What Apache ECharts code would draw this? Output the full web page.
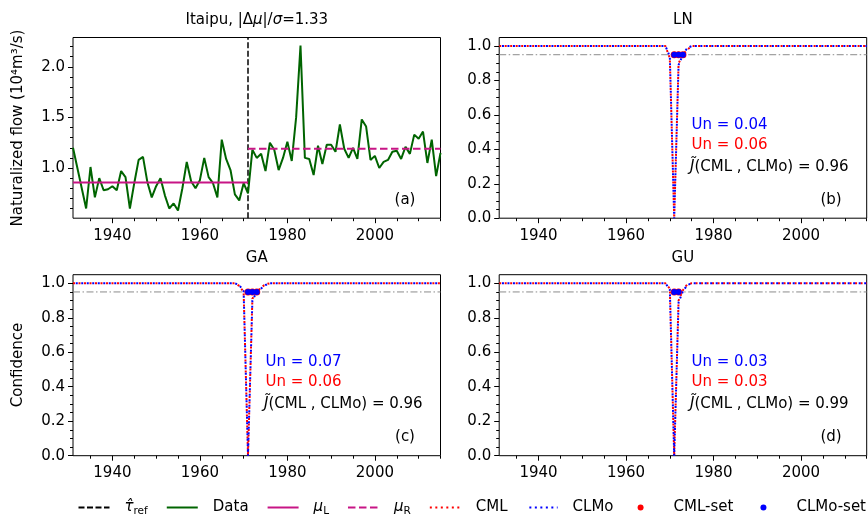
<!DOCTYPE html>
<html><head><meta charset="utf-8">
<script src="https://cdn.jsdelivr.net/npm/echarts@6/dist/echarts.min.js"></script>
<style>html,body{margin:0;padding:0;background:#fff}#c{width:868px;height:521px}</style>
</head><body><div id="c"></div>
<script>
// ---------------- data ----------------
const years = [];
for (let y = 1931; y <= 2015; y++) years.push(y);

const flow = [
  1.20,1.00,0.80,0.60,1.01,0.71,0.90,0.78,0.79,0.82,
  0.78,0.97,0.91,0.60,0.85,1.08,1.11,0.86,0.71,0.82,
  0.90,0.73,0.60,0.65,0.58,0.80,1.06,0.87,0.80,0.88,
  1.10,0.91,0.85,0.71,1.28,1.09,0.98,0.74,0.68,0.85,
  0.75,1.18,1.10,1.14,0.97,1.25,1.18,0.98,1.10,1.26,
  1.07,1.50,2.21,1.10,1.09,0.93,1.22,1.04,1.23,1.23,
  1.16,1.43,1.19,1.10,1.20,1.09,1.48,1.41,1.08,1.12,
  1.00,1.06,1.08,1.16,1.17,1.09,1.21,1.14,1.33,1.29,
  1.36,1.05,1.28,0.92,1.15
];
const tauRef = 1971;
const muLLevel = 0.857, muLSpan = [1931, 1971];
const muRLevel = 1.19,  muRSpan = [1971, 2015];
const confLevel = 0.95;

// confidence curves (one value per year 1931-2015)
const lnCML = [
  1,1,1,1,1,1,1,1,1,1, 1,1,1,1,1,1,1,1,1,1, 1,1,1,1,1,1,1,1,1,1, 1,1,1,1,1,1,1,1,
  1,0.93,0,0.90,0.95,0.98,
  1,1,1,1,1,1,1,1,1,1, 1,1,1,1,1,1,1,1,1,1, 1,1,1,1,1,1,1,1,1,1, 1,1,1,1,1,1,1,1,1,1, 1];
const lnCLMo = [
  1,1,1,1,1,1,1,1,1,1, 1,1,1,1,1,1,1,1,1,1, 1,1,1,1,1,1,1,1,1,1, 1,1,1,1,1,1,1,1,
  1,0.94,0,0.89,0.95,0.99,
  1,1,1,1,1,1,1,1,1,1, 1,1,1,1,1,1,1,1,1,1, 1,1,1,1,1,1,1,1,1,1, 1,1,1,1,1,1,1,1,1,1, 1];
const gaCML = [
  1,1,1,1,1,1,1,1,1,1, 1,1,1,1,1,1,1,1,1,1, 1,1,1,1,1,1,1,1,1,1, 1,1,1,1,1,1,1,1,
  0.985,0.95,0,0.91,0.95,0.975,0.995,
  1,1,1,1,1,1,1,1,1,1, 1,1,1,1,1,1,1,1,1,1, 1,1,1,1,1,1,1,1,1,1, 1,1,1,1,1,1,1,1,1,1];
const gaCLMo = [
  1,1,1,1,1,1,1,1,1,1, 1,1,1,1,1,1,1,1,1,1, 1,1,1,1,1,1,1,1,1,1, 1,1,1,1,1,1,1,1,
  0.99,0.955,0,0.90,0.95,0.97,0.99,
  1,1,1,1,1,1,1,1,1,1, 1,1,1,1,1,1,1,1,1,1, 1,1,1,1,1,1,1,1,1,1, 1,1,1,1,1,1,1,1,1,1];
const guCML = [
  1,1,1,1,1,1,1,1,1,1, 1,1,1,1,1,1,1,1,1,1, 1,1,1,1,1,1,1,1,1,1, 1,1,1,1,1,1,1,1,
  1,0.97,0,0.90,0.96,0.995,
  1,1,1,1,1,1,1,1,1,1, 1,1,1,1,1,1,1,1,1,1, 1,1,1,1,1,1,1,1,1,1, 1,1,1,1,1,1,1,1,1,1, 1];
const guCLMo = [
  1,1,1,1,1,1,1,1,1,1, 1,1,1,1,1,1,1,1,1,1, 1,1,1,1,1,1,1,1,1,1, 1,1,1,1,1,1,1,1,
  1,0.965,0,0.89,0.955,0.99,
  1,1,1,1,1,1,1,1,1,1, 1,1,1,1,1,1,1,1,1,1, 1,1,1,1,1,1,1,1,1,1, 1,1,1,1,1,1,1,1,1,1, 1];

const lnCMLSet = [1971,1972,1973], lnCLMoSet = [1971,1972,1973];
const gaCMLSet = [1971,1972,1973], gaCLMoSet = [1971,1972,1973];
const guCMLSet = [1971,1972],      guCLMoSet = [1971,1972];

const panelNames = ['LN','GA','GU'];
const unBlue = ['0.04','0.07','0.03'];
const unRed  = ['0.06','0.06','0.03'];
const jVals  = ['0.96','0.96','0.99'];

// ticks
const xMajor = [1940,1960,1980,2000];
const xMinor = [1935,1945,1950,1955,1965,1970,1975,1985,1990,1995,2005,2010,2015];
const yAMajor = [1.0,1.5,2.0];
const yAMinor = [0.6,0.7,0.8,0.9,1.1,1.2,1.3,1.4,1.6,1.7,1.8,1.9,2.1,2.2];
const yCMajor = [0,0.2,0.4,0.6,0.8,1.0];
const yCMinor = [0.05,0.1,0.15,0.25,0.3,0.35,0.45,0.5,0.55,0.65,0.7,0.75,0.85,0.9,0.95];

// ---------------- layout ----------------
const FF = '"DejaVu Sans"';
const FS = 15;
const grids = [
  {left:73,  top:37.5,  width:367.5, height:180.7},
  {left:499.2, top:37.5,  width:367.5, height:180.7},
  {left:73,  top:274.7, width:367.5, height:181},
  {left:499.2, top:274.7, width:367.5, height:181}
].map(g => Object.assign(g, {show:true, borderColor:'#000', borderWidth:1, backgroundColor:'transparent', containLabel:false}));

const X_MIN = 1931, X_MAX = 2015;
const yLims = [[0.504, 2.29],[0,1.05],[0,1.05],[0,1.05]];

const xAxis = [], yAxis = [];
for (let i = 0; i < 4; i++) {
  xAxis.push({type:'value', gridIndex:i, min:X_MIN, max:X_MAX, position:'bottom',
    axisLine:{show:false}, splitLine:{show:false},
    axisTick:{show:true, inside:false, length:5, customValues:xMajor, lineStyle:{color:'#000', width:1}},
    axisLabel:{show:true, customValues:xMajor, margin:10, color:'#000', fontFamily:FF, fontSize:FS,
      formatter: v => String(Math.round(v))}});
}
for (let i = 0; i < 4; i++) {
  xAxis.push({type:'value', gridIndex:i, min:X_MIN, max:X_MAX, position:'bottom',
    axisLine:{show:false}, splitLine:{show:false},
    axisTick:{show:true, inside:false, length:3, customValues:xMinor, lineStyle:{color:'#000', width:1}},
    axisLabel:{show:false}});
}
for (let i = 0; i < 4; i++) {
  const maj = i === 0 ? yAMajor : yCMajor;
  yAxis.push({type:'value', gridIndex:i, min:yLims[i][0], max:yLims[i][1], position:'left',
    axisLine:{show:false}, splitLine:{show:false},
    axisTick:{show:true, inside:false, length:5, customValues:maj, lineStyle:{color:'#000', width:1}},
    axisLabel:{show:true, customValues:maj, margin:8, color:'#000', fontFamily:FF, fontSize:FS,
      formatter: v => Number(v).toFixed(1)}});
}
for (let i = 0; i < 4; i++) {
  const mn = i === 0 ? yAMinor : yCMinor;
  yAxis.push({type:'value', gridIndex:i, min:yLims[i][0], max:yLims[i][1], position:'left',
    axisLine:{show:false}, splitLine:{show:false},
    axisTick:{show:true, inside:false, length:3, customValues:mn, lineStyle:{color:'#000', width:1}},
    axisLabel:{show:false}});
}

const pairs = (xs, ys) => xs.map((x, i) => [x, ys[i]]);
const DOT = [2, 3.5];
const series = [];
// panel (a)
series.push({name:'tau', type:'line', xAxisIndex:0, yAxisIndex:0, symbol:'none', silent:true,
  data:[[tauRef, yLims[0][0]],[tauRef, yLims[0][1]]],
  lineStyle:{color:'#000', width:1.5, type:[6,2.5]}, itemStyle:{color:'#000'}, z:3});
series.push({name:'Data', type:'line', xAxisIndex:0, yAxisIndex:0, symbol:'none', silent:true,
  data:pairs(years, flow), lineStyle:{color:'#006400', width:2}, itemStyle:{color:'#006400'}, z:3});
series.push({name:'muL', type:'line', xAxisIndex:0, yAxisIndex:0, symbol:'none', silent:true,
  data:[[muLSpan[0], muLLevel],[muLSpan[1], muLLevel]], lineStyle:{color:'#c71585', width:2}, itemStyle:{color:'#c71585'}, z:4});
series.push({name:'muR', type:'line', xAxisIndex:0, yAxisIndex:0, symbol:'none', silent:true,
  data:[[muRSpan[0], muRLevel],[muRSpan[1], muRLevel]], lineStyle:{color:'#c71585', width:2, type:[7.5,3.5]}, itemStyle:{color:'#c71585'}, z:4});

const confCML = [lnCML, gaCML, guCML], confCLMo = [lnCLMo, gaCLMo, guCLMo];
const setsCML = [lnCMLSet, gaCMLSet, guCMLSet], setsCLMo = [lnCLMoSet, gaCLMoSet, guCLMoSet];
for (let k = 0; k < 3; k++) {
  const ax = k + 1;
  series.push({name:'level', type:'line', xAxisIndex:ax, yAxisIndex:ax, symbol:'none', silent:true,
    data:[[X_MIN, confLevel],[X_MAX, confLevel]], lineStyle:{color:'#8c8c8c', width:1, type:[7,2.5,1.5,2.5]}, z:2});
  series.push({name:'CML', type:'line', xAxisIndex:ax, yAxisIndex:ax, symbol:'none', silent:true,
    data:pairs(years, confCML[k]), lineStyle:{color:'#ff0000', width:2, type:DOT}, itemStyle:{color:'#ff0000'}, z:3});
  series.push({name:'CLMo', type:'line', xAxisIndex:ax, yAxisIndex:ax, symbol:'none', silent:true,
    data:pairs(years, confCLMo[k]), lineStyle:{color:'#0000ff', width:2, type:DOT, dashOffset:2.75}, itemStyle:{color:'#0000ff'}, z:4});
  series.push({name:'CML-set', type:'scatter', xAxisIndex:ax, yAxisIndex:ax, symbol:'circle', symbolSize:7, silent:true,
    data:setsCML[k].map(y => [y, confLevel]), itemStyle:{color:'#ff0000', opacity:1}, z:5});
  series.push({name:'CLMo-set', type:'scatter', xAxisIndex:ax, yAxisIndex:ax, symbol:'circle', symbolSize:6, silent:true,
    data:setsCLMo[k].map(y => [y, confLevel]), itemStyle:{color:'#0000ff', opacity:1}, z:6});
}

// ---------------- text ----------------
const rich = {
  n:{fontFamily:FF, fontSize:FS, color:'#000'},
  i:{fontFamily:FF, fontSize:FS, fontStyle:'italic', color:'#000'},
  s:{fontFamily:FF, fontSize:10.5, color:'#000', verticalAlign:'bottom', lineHeight:10}
};
function txt(x, y, text, o) {
  return {type:'text', x:x, y:y, silent:true, rotation:(o && o.rotation) || 0,
    style:Object.assign({text:text, fontFamily:FF, fontSize:FS, fill:'#000', align:'left', verticalAlign:'middle', rich:rich}, (o && o.style) || {})};
}
const graphic = [];
graphic.push(txt(256.8, 20, '{n|Itaipu, |Δ}{i|μ}{n||/}{i|σ}{n|=1.33}', {style:{align:'center'}}));
graphic.push(txt(682.9, 20, panelNames[0], {style:{align:'center'}}));
graphic.push(txt(256.8, 258, panelNames[1], {style:{align:'center'}}));
graphic.push(txt(682.9, 258, panelNames[2], {style:{align:'center'}}));
graphic.push(txt(18.5, 128, 'Naturalized flow (10⁴m³/s)', {rotation:Math.PI/2, style:{align:'center'}}));
graphic.push(txt(18.5, 365, 'Confidence', {rotation:Math.PI/2, style:{align:'center'}}));
graphic.push(txt(405, 200, '(a)', {style:{align:'center'}}));
graphic.push(txt(831, 200, '(b)', {style:{align:'center'}}));
graphic.push(txt(405, 437, '(c)', {style:{align:'center'}}));
graphic.push(txt(831, 437, '(d)', {style:{align:'center'}}));
const annX = [690, 264, 690], annY = [124, 361, 361];
for (let k = 0; k < 3; k++) {
  graphic.push(txt(annX[k] + 1.5, annY[k] + 1, 'Un = ' + unBlue[k], {style:{fill:'#0000ff'}}));
  graphic.push(txt(annX[k] + 1.5, annY[k] + 21, 'Un = ' + unRed[k], {style:{fill:'#ff0000'}}));
  graphic.push(txt(annX[k], annY[k] + 43, '{i|J\u0303}{n|(CML , CLMo) = ' + jVals[k] + '}'));
}

const legendLabels = {tau:'{i|τ\u0302}{s|ref}', Data:'Data', muL:'{i|μ}{s|L}', muR:'{i|μ}{s|R}',
  CML:'CML', CLMo:'CLMo', 'CML-set':'CML-set', 'CLMo-set':'CLMo-set'};
const legRich = {
  i:{fontFamily:FF, fontSize:FS, fontStyle:'italic', color:'#000', lineHeight:18},
  s:{fontFamily:FF, fontSize:10.5, color:'#000', verticalAlign:'bottom', lineHeight:11}
};
const legend = [
  {data:['tau','Data','muL','muR','CML','CLMo'], left:77.5, top:500, orient:'horizontal',
   itemWidth:31, itemHeight:14, itemGap:18, selectedMode:false, padding:0,
   itemStyle:{opacity:0},
   formatter: n => legendLabels[n],
   textStyle:{fontFamily:FF, fontSize:FS, color:'#000', padding:[0,0,0,10], rich:legRich}},
  {data:['CML-set','CLMo-set'], right:2, top:500, orient:'horizontal',
   itemWidth:6, itemHeight:6, itemGap:27, selectedMode:false, padding:0,
   formatter: n => legendLabels[n],
   textStyle:{fontFamily:FF, fontSize:FS, color:'#000', padding:[0,0,0,25]}}
];

const chart = echarts.init(document.getElementById('c'), null, {renderer:'canvas'});
chart.setOption({
  animation:false, backgroundColor:'#fff',
  grid:grids, xAxis:xAxis, yAxis:yAxis, series:series, legend:legend, graphic:graphic
});
</script></body></html>
